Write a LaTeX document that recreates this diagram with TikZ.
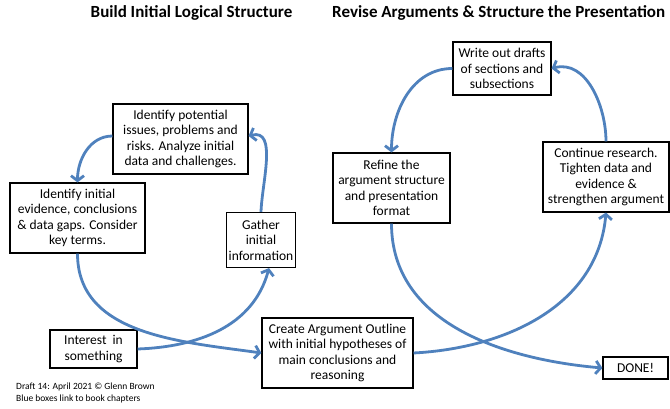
\documentclass[tikz,border=0pt]{standalone}
\usepackage{fontspec}
\setmainfont{Carlito}
\usetikzlibrary{arrows.meta, positioning}
\definecolor{flowblue}{RGB}{79,129,189}

\begin{document}
\begin{tikzpicture}[
        x=1pt, y=1pt,
        stepnode/.style={rectangle, draw=black, line width=1.1pt, fill=white, align=center, inner sep=2pt, font=\fontsize{13.5}{15.5}\selectfont},
        flow/.style={-{Straight Barb[length=5pt, width=13pt]}, line width=2.8pt, draw=flowblue},
        headline/.style={font=\fontsize{17}{20}\selectfont\bfseries, inner sep=0pt}
    ]
        \useasboundingbox (0,0) rectangle (670,408);
        % Titles
        \node[headline] (buildtitle) at (191.5, 395) {Build Initial Logical Structure};
        \node[headline, anchor=west] (revisetitle) at (332, 395) {Revise Arguments \& Structure the Presentation};
        % Boxes
        \node[stepnode, minimum width=87pt, minimum height=38pt] (interest) at (93.5, 59) {Interest\ \ in\\ something};
        \node[stepnode, minimum width=62pt, minimum height=55pt] (gather) at (261, 168) {Gather\\ initial\\ information};
        \node[stepnode, minimum width=135pt, minimum height=70pt] (potential) at (180.5, 269) {Identify potential\\ issues, problems and\\ risks. Analyze initial\\ data and challenges.};
        \node[stepnode, minimum width=135pt, minimum height=70pt] (initial) at (77.5, 190) {Identify initial\\ evidence, conclusions\\ \& data gaps. Consider\\ key terms.};
        \node[stepnode, minimum width=151pt, minimum height=70pt] (outline) at (337.5, 55) {Create Argument Outline\\ with initial hypotheses of\\ main conclusions and\\ reasoning};
        \node[stepnode, minimum width=126pt, minimum height=70pt] (research) at (606, 231) {Continue research.\\ Tighten data and\\ evidence \&\\ strengthen argument};
        \node[stepnode, minimum width=98pt, minimum height=53pt] (drafts) at (502, 339.5) {Write out drafts\\ of sections and\\ subsections};
        \node[stepnode, minimum width=117pt, minimum height=70pt] (refine) at (391.5, 220) {Refine the\\ argument structure\\ and presentation\\ format};
        \node[stepnode, minimum width=65pt, minimum height=22pt] (done) at (635.5, 40) {DONE!};
        % Footer
        \node[anchor=west, align=left, inner sep=0pt, font=\fontsize{9.5}{12.5}\selectfont] (footer) at (16, 15) {Draft 14: April 2021 \textcopyright{} Glenn Brown\\ Blue boxes link to book chapters};
        % Left cycle
        \draw[flow] (interest.east) to[out=2, in=-105] ([xshift=8pt]gather.south);
        \draw[flow] (gather.north) to[out=88, in=15] ([yshift=3pt]potential.east);
        \draw[flow] ([yshift=3pt]potential.west) to[out=180, in=90] (initial.north);
        \draw[flow] (initial.south) to[out=-90, in=172] (outline.west);
        % Right cycle
        \draw[flow] (outline.east) to[out=3, in=-95] (research.south);
        \draw[flow] (research.north) to[out=90, in=15] (drafts.east);
        \draw[flow] (drafts.west) to[out=180, in=90] (refine.north);
        \draw[flow] (refine.south) to[out=-90, in=175] (done.west);
    \end{tikzpicture}
\end{document}
